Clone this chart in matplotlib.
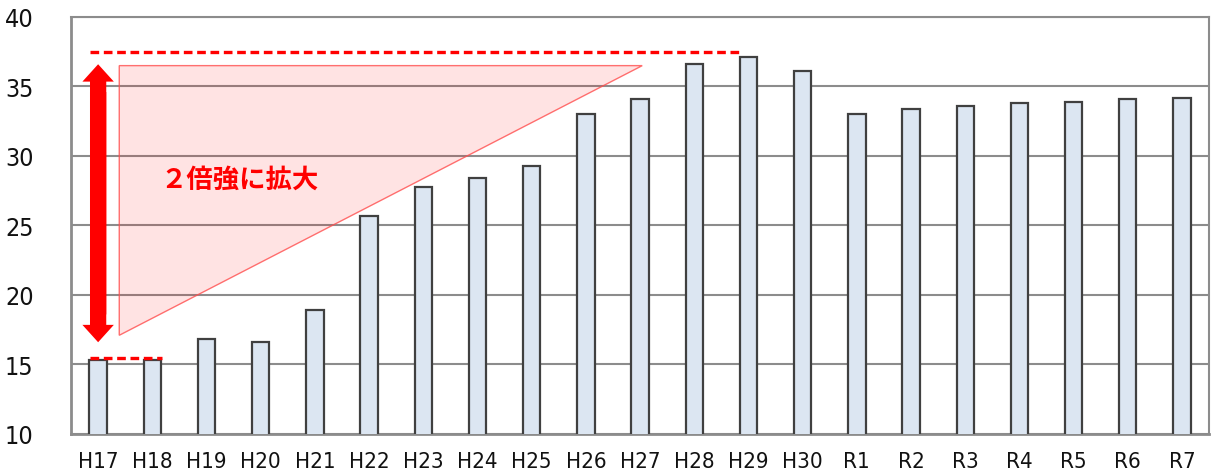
import matplotlib
matplotlib.use("Agg")
import matplotlib.pyplot as plt
from matplotlib import font_manager as fm
from matplotlib.patches import Polygon

# ---- data ----
categories = ["H17", "H18", "H19", "H20", "H21", "H22", "H23", "H24", "H25", "H26", "H27",
              "H28", "H29", "H30", "R1", "R2", "R3", "R4", "R5", "R6", "R7"]
values = [15.3, 15.3, 16.8, 16.6, 18.9, 25.7, 27.8, 28.4, 29.3, 33.0, 34.1,
          36.6, 37.1, 36.1, 33.0, 33.4, 33.6, 33.8, 33.9, 34.1, 34.2]
y_ticks = [10, 15, 20, 25, 30, 35, 40]
annot_text = "２倍強に拡大"
# annotation guide levels (data units)
top_level = 37.45
low_level = 15.5
arrow_top = 36.6
arrow_low = 16.6
tri_top = 36.5
tri_bottom = 17.1

names = {f.name for f in fm.fontManager.ttflist}
cond_files = [f for f in fm.fontManager.ttflist
              if ("condensed" in f.fname.lower() or "narrow" in f.fname.lower()
                  or f.stretch in ("condensed", "semi-condensed", "extra-condensed"))]
regular = [f for f in cond_files if f.weight in (400, "normal", "regular")
           and f.style == "normal" and "bold" not in f.fname.lower()
           and "light" not in f.fname.lower() and "medium" not in f.fname.lower()]
if "Liberation Sans Narrow" in names:
    fp = fm.FontProperties(family="Liberation Sans Narrow")
    xs, ys = 17, 19
elif regular:
    fp = fm.FontProperties(fname=regular[0].fname)
    xs, ys = 16, 18
elif cond_files:
    fp = fm.FontProperties(fname=cond_files[0].fname)
    xs, ys = 16, 18
else:
    fp = fm.FontProperties(family="DejaVu Sans")
    xs, ys = 13.5, 17

fig = plt.figure(figsize=(12.12, 4.77), dpi=100)
ax = fig.add_axes([0.0586, 0.0881, 0.939, 0.8742])

x = list(range(len(categories)))
ax.set_xlim(-0.5, len(categories) - 0.5)
ax.set_ylim(10, 40)

ax.set_axisbelow(True)
ax.yaxis.grid(True, color="#8c8c8c", lw=1.5)
ax.bar(x, values, width=0.32, color="#DCE6F2", edgecolor="#404040", lw=1.6, zorder=3)

# triangle
tri = Polygon([(0.39, tri_top), (0.39, tri_bottom), (10.04, tri_top)], closed=True,
              facecolor=(1, 0, 0, 0.11), edgecolor=(1, 0.3, 0.3, 0.8), lw=1.0, zorder=4)
ax.add_patch(tri)

# dashed guide lines
ax.plot([-0.15, 11.85], [top_level, top_level], color="red", lw=2.4,
        linestyle=(0, (2.6, 1.4)), zorder=5)
ax.plot([-0.15, 1.18], [low_level, low_level], color="red", lw=2.4,
        linestyle=(0, (2.6, 1.4)), zorder=5)

# double arrow (two overlapping single-headed arrows)
ax.arrow(0, arrow_low + 2, 0, arrow_top - arrow_low - 2, width=0.30, head_width=0.58,
         head_length=1.25, length_includes_head=True, color="red", lw=0, zorder=6)
ax.arrow(0, arrow_top - 2, 0, arrow_low - arrow_top + 2, width=0.30, head_width=0.58,
         head_length=1.25, length_includes_head=True, color="red", lw=0, zorder=6)

ax.text(2.6, 28.3, annot_text, color="red", fontsize=19, fontweight="bold",
        ha="center", va="center", family=["Noto Sans CJK JP", "DejaVu Sans"], zorder=7)

for s in ax.spines.values():
    s.set_color("#8c8c8c")
    s.set_linewidth(1.5)
ax.spines["left"].set_linewidth(2.0)
ax.spines["bottom"].set_linewidth(2.0)

ax.set_xticks(x)
ax.set_xticklabels(categories, fontproperties=fp)
ax.set_yticks(y_ticks)
ax.set_yticklabels([str(v) for v in y_ticks], fontproperties=fp)
ax.tick_params(axis="both", length=0)
ax.tick_params(axis="x", pad=12)
ax.tick_params(axis="y", pad=27)
for lab in ax.get_xticklabels():
    lab.set_color("#111111")
    lab.set_fontsize(xs)
for lab in ax.get_yticklabels():
    lab.set_color("#111111")
    lab.set_fontsize(ys)

fig.savefig("out.png", dpi=100)
